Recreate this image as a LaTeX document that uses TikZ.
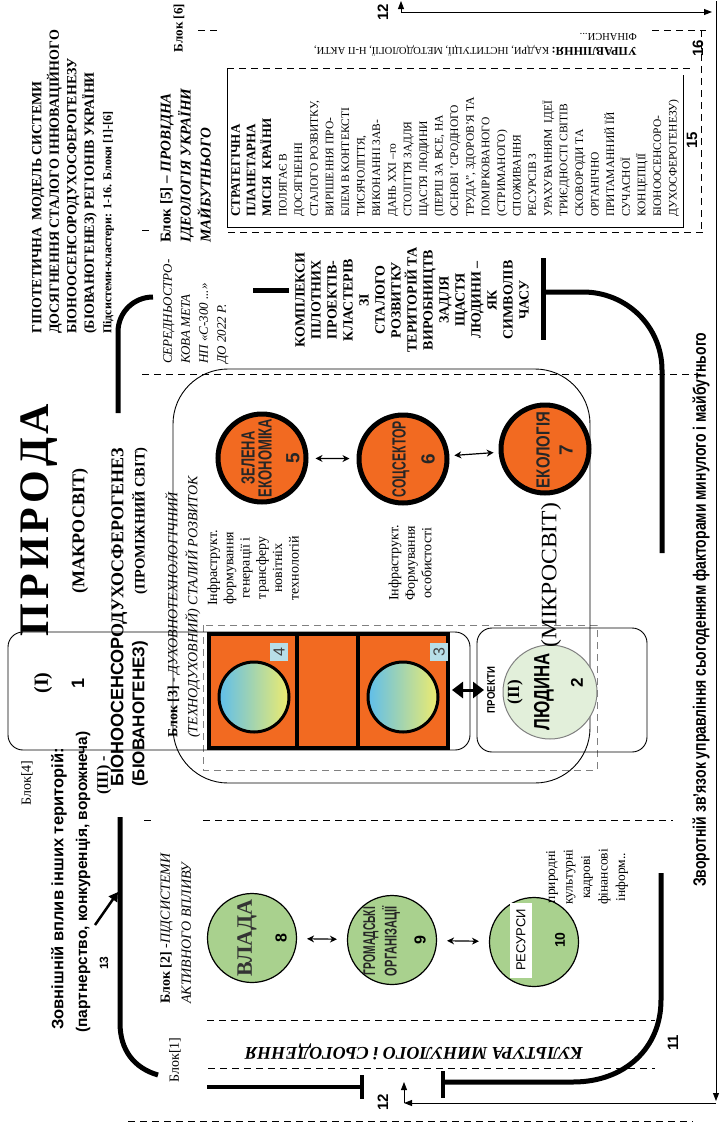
\documentclass[tikz,border=0pt]{standalone}
\usepackage{fontspec}
\setmainfont{Liberation Serif}
\setsansfont{Liberation Sans}
\usepackage{graphicx}
\usetikzlibrary{arrows.meta}
\definecolor{orng}{RGB}{242,106,33}
\definecolor{grn}{RGB}{169,209,142}
\definecolor{lgrn}{RGB}{226,239,218}
\definecolor{lblue}{RGB}{183,222,232}
\definecolor{cblue}{RGB}{95,190,235}
\definecolor{cyell}{RGB}{238,236,110}
\newcommand\myfs[2]{\fontsize{#1pt}{#2pt}\selectfont}
\newcommand\fitw[2]{\resizebox{#1pt}{\height}{#2}}
\begin{document}
\begin{tikzpicture}[x=1pt,y=-1pt,
  rot/.style={rotate=90,inner sep=0pt},
  flip/.style={rotate=180,inner sep=0pt},
  dsh/.style={dash pattern=on 7pt off 5pt, line width=0.9pt},
  gdsh/.style={dash pattern=on 7pt off 5pt, line width=0.9pt, gray},
  thk/.style={line width=5pt},
  thn/.style={line width=0.9pt},
  oc/.style={circle, draw=black, line width=5pt, fill=orng, minimum size=88pt, inner sep=0pt},
  gc/.style={circle, draw=black, line width=1.2pt, fill=grn, minimum size=89pt, inner sep=0pt},
  yc/.style={circle, draw=black, line width=3pt, left color=cblue, right color=cyell, minimum size=70pt, inner sep=0pt},
  ctext/.style={rot, font=\sffamily\bfseries\myfs{19}{19}, text=black!85},
  num/.style={rot, font=\sffamily\bfseries\myfs{15}{15}},
  dbl/.style={line width=1.2pt, {Stealth[length=7pt,width=7pt]}-{Stealth[length=7pt,width=7pt]}},
  arr/.style={line width=0.9pt, -{Triangle[length=8pt,width=6pt]}}
]
\useasboundingbox (0,0) rectangle (720,1128);

% ---------- title and upper texts ----------
\node[rot, anchor=north west, align=left, font=\bfseries\myfs{14}{17.5}] (title) at (32,334)
 {ГІПОТЕТИЧНА\ \ МОДЕЛЬ СИСТЕМИ\\ДОСЯГНЕННЯ СТАЛОГО ІННОВАЦІЙНОГО\\БІОНООСЕНСОРОДУХОСФЕРОГЕНЕЗУ\\(БІОВАНОГЕНЕЗ) РЕГІОНІВ УКРАЇНИ\\{\myfs{12}{17.5}Підсистеми-кластери: 1-16. Блоки [1]-[6]}};

\node[rot, font=\bfseries\myfs{13}{13}] (b6) at (179,28) {Блок [6]};

\node[rot, anchor=north west, align=left, font=\bfseries\itshape\myfs{15}{20}] (b5) at (160,243)
 {\upshape Блок [5] – \itshape ПРОВІДНА\\ІДЕОЛОГІЯ УКРАЇНИ\\МАЙБУТНЬОГО};

\node[rot, anchor=north west, align=left, font=\itshape\myfs{13}{18}] (mid) at (163,364)
 {СЕРЕДНЬОСТРО-\\КОВА МЕТА\\НП «С-300 ...»\\ДО 2022 Р.};

\node[rot, anchor=north west, align=left, font=\myfs{11.5}{15.6}] (mission) at (231,217)
 {\textbf{\myfs{13}{15.6}СТРАТЕГІЧНА}\\\textbf{\myfs{13}{15.6}ПЛАНЕТАРНА}\\\textbf{\myfs{13}{15.6}МІСІЯ\ \ КРАЇНИ}\\ПОЛЯГАЄ В\\ДОСЯГНЕННІ\\СТАЛОГО РОЗВИТКУ,\\ВИРІШЕННЯ ПРО-\\БЛЕМ В КОНТЕКСТІ\\ТИСЯЧОЛІТТЯ,\\ВИКОНАННІ ЗАВ-\\ДАНЬ XXI –го\\СТОЛІТТЯ ЗАДЛЯ\\ЩАСТЯ ЛЮДИНИ\\(ПЕРШ ЗА ВСЕ, НА\\ОСНОВІ 'СРОДНОГО\\ТРУДА'', ЗДОРОВ'Я ТА\\ПОМІРКОВАНОГО\\(СТРИМАНОГО)\\СПОЖИВАННЯ\\РЕСУРСІВ З\\УРАХУВАННЯМ\ \ ІДЕЇ\\ТРИЄДНОСТІ СВІТІВ\\СКОВОРОДИ ТА\\ОРГАНІЧНО\\ПРИТАМАННИЙ ЇЙ\\СУЧАСНОЇ\\КОНЦЕПЦІЇ\\БІОНООСЕНСОРО-\\ДУХОСФЕРОГЕНЕЗУ)};

\node[flip, anchor=north west, align=left, font=\myfs{10.5}{14}] (upr) at (637,56)
 {{\bfseries\myfs{12}{14}УПРАВЛІННЯ:} КАДРИ, ІНСТИТУЦІЇ, МЕТОДОЛОГІЇ, Н-П АКТИ,\\ФІНАНСИ...};

\node[rot, align=center, font=\bfseries\myfs{14}{16}] (kompl) at (412,300)
 {КОМПЛЕКСИ\\ПІЛОТНИХ\\ПРОЕКТІВ-\\КЛАСТЕРІВ\\ЗІ\\СТАЛОГО\\РОЗВИТКУ\\ТЕРИТОРІЙ ТА\\ВИРОБНИЦТВ\\ЗАДЛЯ\\ЩАСТЯ\\ЛЮДИНИ –\\ЯК\\СИМВОЛІВ\\ЧАСУ};

% box of block 5
\draw[dsh] (227,68) -- (690,68);
\draw[thn] (227,68) -- (227,227) -- (683,227) -- (683,75);
\draw[dsh] (142,230) -- (153,230);
\draw[dsh] (228,232) -- (707,232);
\draw[dsh] (198,30) -- (217,30);
\draw[dsh] (652,30) -- (706,30);
\draw[dsh] (701,30) -- (701,232);

% ---------- numbers ----------
\node[num] (n12a) at (383,12) {12};
\node[num] (n12b) at (383,1102) {12};
\node[num] (n16) at (698,48) {16};
\node[num] (n15) at (692,140) {15};
\node[num] (n11) at (673,1043) {11};
\node[num, font=\sffamily\bfseries\myfs{12}{12}] (n13) at (104,963) {13};

% ---------- outer feedback arrows ----------
\coordinate (ta) at (401,12);
\coordinate (tb) at (712,12);
\coordinate (tu) at (401,1);
\coordinate (va) at (716,1);
\coordinate (vb) at (716,1101);
\coordinate (ba) at (716,1103);
\coordinate (bb) at (404,1103);
\coordinate (bu) at (404,1082);
\draw[arr] (ta) -- (tb);
\draw[arr] (ta) -- (tu);
\draw[arr] (va) -- (vb);
\draw[arr] (ba) -- (bb);
\draw[arr] (bb) -- (bu);
\node[rot, anchor=west, font=\sffamily\bfseries\myfs{18}{18}] (feed) at (701,887)
 {\fitw{554}{Зворотній зв'язок управління сьогоденням факторами минулого і майбутнього}};

% ---------- dashed grid ----------
\draw[dsh] (142,374) -- (705,374);
\draw[dsh] (144,820) -- (154,820);
\draw[dsh] (203,820) -- (673,820);
\draw[dsh] (207,1020) -- (655,1020);
\draw[dsh] (208,1068) -- (655,1068);
\draw[dsh] (128,1121) -- (693,1121);
\draw[gdsh] (203,625) rectangle (597,770);

% ---------- thin frames ----------
\draw[thn, rounded corners=55] (173,369) rectangle (590,783);
\draw[thn, rounded corners=15] (8,632) rectangle (470,750);
\draw[thn, rounded corners=15] (477,628) rectangle (647,752);

% ---------- thick brackets ----------
\draw[thk] (153,297) .. controls (134,297) and (118,312) .. (118,332) -- (118,413);
\draw[thk] (253,290) -- (289,290);
\draw[thk] (543,258) -- (543,340);
\draw[thk] (543,292) -- (583,292) .. controls (627,292) and (662,327) .. (662,370) -- (662,553);
\draw[thk] (120,817) -- (120,1023) .. controls (120,1050) and (134,1068) .. (158,1075);
\draw[thk] (661,873) -- (661,1000) .. controls (661,1048) and (625,1082) .. (573,1082) -- (443,1082);
\draw[line width=4.5pt] (443,1071) -- (443,1098);
\draw[line width=4.5pt] (207,1087) -- (362,1087);
\draw[line width=4.5pt] (362,1075) -- (362,1099);

% ---------- nature ----------
\node[rot, font=\bfseries\myfs{42}{42}] (prir) at (39,520) {П\hspace{4pt}Р\hspace{4pt}И\hspace{4pt}Р\hspace{4pt}О\hspace{4pt}Д\hspace{4pt}А};
\node[rot, font=\bfseries\myfs{18}{18}] (makro) at (80,531) {(МАКРОСВІТ)};
\node[rot, font=\bfseries\myfs{20}{20}] (i1) at (43,683) {(І)};
\node[rot, font=\sffamily\bfseries\myfs{18}{18}] (one) at (78,683) {1};

\node[rot, anchor=west, font=\bfseries\myfs{16}{16}] (iii) at (104,795) {(ІІІ) -};
\node[rot, anchor=west, font=\bfseries\myfs{18}{18}] (bio) at (119,787) {\sffamily БІОНООСЕНСОР\rmfamily ОДУХОСФЕРОГЕНЕЗ};
\node[rot, anchor=west, font=\sffamily\bfseries\myfs{17}{17}] (biov) at (140,787) {(БІОВАНОГЕНЕЗ)};
\node[rot, anchor=west, font=\bfseries\myfs{14.5}{14.5}] (prom) at (140,595) {(ПРОМІЖНИЙ СВІТ)};

\node[rot, anchor=north west, align=left, font=\myfs{14}{20}] (b3) at (165,738)
 {\textbf{Блок [3]} - \textit{ДУХОВНОТЕХНОЛОГІЧНИЙ}\\\textit{(ТЕХНОДУХОВНИЙ) СТАЛИЙ РОЗВИТОК}};

\node[rot, align=center, font=\myfs{14}{16.3}] (inf1) at (253,568)
 {Інфраструкт.\\формування\\генерації і\\трансферу\\новітніх\\технологій};
\node[rot, align=center, font=\myfs{14}{16.5}] (inf2) at (410,563)
 {Інфраструкт.\\Формування\\особистості};

% orange circles
\node[oc] (c5) at (262,458) {};
\node[oc] (c6) at (403,459) {};
\node[oc] (c7) at (545,449) {};
\node[ctext] (t5a) at (248,458) {\scalebox{0.68}[1]{ЗЕЛЕНА}};
\node[ctext] (t5b) at (265,458) {\fitw{78}{ЕКОНОМІКА}};
\node[num, font=\sffamily\bfseries\myfs{19}{19}, text=black!85] (n5) at (293,458) {5};
\node[ctext] (t6) at (401,459) {\fitw{76}{СОЦСЕКТОР}};
\node[num, font=\sffamily\bfseries\myfs{19}{19}, text=black!85] (n6) at (428,459) {6};
\node[ctext] (t7) at (543,450) {\fitw{76}{ЕКОЛОГІЯ}};
\node[num, font=\sffamily\bfseries\myfs{19}{19}, text=black!85] (n7) at (566,450) {7};
\draw[dbl, shorten <=7pt, shorten >=7pt] (c5) -- (c6);
\draw[dbl, shorten <=5pt, shorten >=5pt] (c6) -- (c7);

% orange block with blocks 3 and 4
\node[draw=black, line width=4pt, fill=orng, minimum width=239pt, minimum height=114pt, inner sep=0pt] (ob) at (328.5,691) {};
\draw[line width=4pt] (297,633) -- (297,749);
\draw[line width=4pt] (358,633) -- (358,749);
\node[yc] (g4) at (254,697) {};
\node[yc] (g3) at (403,697) {};
\node[rot, fill=lblue, font=\sffamily\myfs{16}{16}, text=black!75, minimum width=18pt, minimum height=18pt] (l4) at (279,652) {4};
\node[rot, fill=lblue, font=\sffamily\myfs{16}{16}, text=black!75, minimum width=18pt, minimum height=18pt] (l3) at (439,652) {3};

% projects arrow
\coordinate (pa) at (452,690);
\coordinate (pb) at (484,690);
\draw[line width=3pt, {Triangle[length=11pt,width=16pt]}-{Triangle[length=11pt,width=16pt]}] (pa) -- (pb);
\node[rot, font=\sffamily\bfseries\myfs{11}{11}] (proj) at (491,690) {\fitw{46}{ПРОЕКТИ}};

% human
\node[circle, draw=gray, line width=1pt, fill=lgrn, minimum size=94pt, inner sep=0pt] (lyud) at (550,692) {};
\node[rot, font=\bfseries\myfs{17}{17}] (ii) at (515,692) {(ІІ)};
\node[rot, font=\sffamily\bfseries\myfs{22}{22}] (lname) at (544,692) {\fitw{77}{ЛЮДИНА}};
\node[num, font=\sffamily\bfseries\myfs{17}{17}] (n2) at (577,683) {2};
\node[rot, anchor=west, font=\myfs{22}{22}] (mikro) at (551,648) {\fitw{145}{(МІКРОСВІТ)}};

% ---------- lower part ----------
\node[rot, font=\myfs{14}{14}] (b4) at (27,783) {Блок[4]};
\node[rot, anchor=west, font=\sffamily\bfseries\myfs{16.5}{16.5}] (ext1) at (59,1030) {Зовнішній вплив інших територій:};
\node[rot, anchor=west, font=\sffamily\bfseries\myfs{15.5}{15.5}] (ext2) at (83,1033) {(партнерство, конкуренція, ворожнеча)};
\coordinate (a13a) at (95,925);
\coordinate (a13b) at (118,892);
\draw[line width=2.5pt, -{Triangle[length=9pt,width=10pt]}] (a13a) -- (a13b);

\node[rot, anchor=north west, align=left, font=\myfs{14}{21}] (b2) at (160,1004)
 {\textbf{Блок [2]} -\textit{ПІДСИСТЕМИ}\\\textit{АКТИВНОГО ВПЛИВУ}};
\node[rot, font=\myfs{14}{14}] (b1) at (175,1060) {Блок[1]};

\node[gc] (c8) at (252,938) {};
\node[gc] (c9) at (392,940) {};
\node[gc] (c10) at (534,942) {};
\node[rot, font=\bfseries\myfs{22}{22}, text=black!80] (t8) at (247,938) {ВЛАДА};
\node[num, font=\sffamily\bfseries\myfs{16}{16}] (n8) at (281,938) {8};
\node[rot, font=\sffamily\bfseries\myfs{17}{17}, text=black!85] (t9a) at (371,941) {\fitw{68}{ГРОМАДСЬКІ}};
\node[rot, font=\sffamily\bfseries\myfs{17}{17}, text=black!85] (t9b) at (391,941) {\fitw{70}{ОРГАНІЗАЦІЇ}};
\node[num, font=\sffamily\bfseries\myfs{16}{16}] (n9) at (420,940) {9};
\node[rot, fill=white, font=\sffamily\myfs{13}{13}, minimum width=75pt, minimum height=22pt] (res) at (521,940) {РЕСУРСИ};
\node[num, font=\sffamily\bfseries\myfs{14}{14}] (n10) at (560,940) {10};
\draw[dbl, shorten <=10pt, shorten >=10pt] (c8) -- (c9);
\draw[dbl, shorten <=10pt, shorten >=10pt] (c9) -- (c10);
\node[rot, align=center, font=\myfs{13.5}{17.5}] (resl) at (587,877)
 {природні\\культурні\\кадрові\\фінансові\\інформ..};

\node[flip, font=\bfseries\itshape\myfs{18}{18}] (kult) at (414,1052) {КУЛЬТУРА МИНУЛОГО і СЬОГОДЕННЯ};
\end{tikzpicture}
\end{document}
